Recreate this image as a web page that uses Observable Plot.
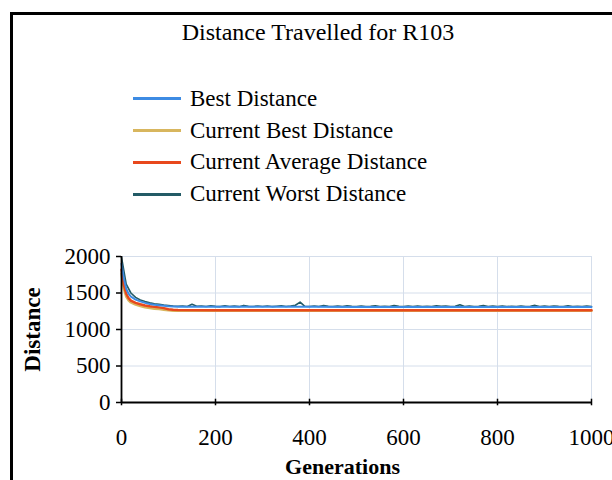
<!DOCTYPE html>
<html>
<head>
<meta charset="utf-8">
<script src="https://cdn.jsdelivr.net/npm/d3@7"></script>
<script src="https://cdn.jsdelivr.net/npm/@observablehq/plot@0.6"></script>
<style>
  html, body { margin: 0; padding: 0; background: #fff; }
  #page { position: relative; width: 612px; height: 480px; overflow: hidden; font-family: "Liberation Serif", "Times New Roman", serif; color: #000; }
  #frame { position: absolute; left: 10px; top: 12px; width: 700px; height: 600px; border: 3px solid #000; box-sizing: border-box; }
  #title { position: absolute; left: 0; width: 636px; top: 17px; text-align: center; font-size: 24px; line-height: 30px; }
  #legend { position: absolute; left: 133px; top: 83px; }
  .row { display: flex; align-items: center; height: 31.8px; font-size: 23px; }
  .swatch { width: 48px; height: 3px; margin-right: 9px; }
  #chart { position: absolute; left: 0; top: 236px; }
</style>
</head>
<body>
<div id="page">
  <div id="frame"></div>
  <div id="title">Distance Travelled for R103</div>
  <div id="legend"></div>
  <div id="chart"></div>
</div>
<script>
const seriesNames = ["Best Distance", "Current Best Distance", "Current Average Distance", "Current Worst Distance"];
const seriesColors = ["#3d8be3", "#d8b65e", "#e8481c", "#235b66"];

const xTicks = [0, 200, 400, 600, 800, 1000];
const yTicks = [0, 500, 1000, 1500, 2000];

// smooth series sampled at these generations
const gensSmooth = [0, 5, 10, 15, 20, 30, 40, 50, 60, 70, 80, 90, 100, 110, 120, 200, 300, 400, 500, 600, 700, 800, 900, 1000];
const bestDistance =        [1900, 1700, 1560, 1490, 1450, 1410, 1385, 1365, 1350, 1340, 1332, 1325, 1318, 1314, 1311, 1310, 1310, 1310, 1309, 1309, 1309, 1309, 1309, 1309];
const currentBestDistance = [1760, 1560, 1450, 1400, 1370, 1340, 1320, 1305, 1293, 1285, 1280, 1272, 1262, 1258, 1257, 1257, 1257, 1257, 1257, 1257, 1257, 1257, 1257, 1257];
const currentAverageDistance = [1820, 1610, 1490, 1430, 1395, 1365, 1345, 1330, 1318, 1310, 1303, 1293, 1278, 1270, 1266, 1265, 1265, 1265, 1265, 1265, 1265, 1265, 1265, 1265];

// noisy worst series
const gensWorst = [0, 10, 20, 30, 40, 50, 60, 70, 80, 90, 100, 110, 120, 130, 140, 150, 160, 170, 180, 190,
  200, 210, 220, 230, 240, 250, 260, 270, 280, 290, 300, 310, 320, 330, 340, 350, 360, 370, 380, 390,
  400, 410, 420, 430, 440, 450, 460, 470, 480, 490, 500, 510, 520, 530, 540, 550, 560, 570, 580, 590,
  600, 610, 620, 630, 640, 650, 660, 670, 680, 690, 700, 710, 720, 730, 740, 750, 760, 770, 780, 790,
  800, 810, 820, 830, 840, 850, 860, 870, 880, 890, 900, 910, 920, 930, 940, 950, 960, 970, 980, 990, 1000];
const worstDistance = [1990, 1620, 1500, 1440, 1405, 1382, 1365, 1352, 1345, 1335, 1328, 1322, 1318, 1320, 1316, 1345, 1318, 1321, 1315, 1324,
  1317, 1314, 1326, 1316, 1320, 1313, 1330, 1317, 1315, 1322, 1316, 1323, 1314, 1319, 1325, 1315, 1321, 1332, 1375, 1318,
  1316, 1322, 1314, 1327, 1317, 1315, 1320, 1313, 1324, 1318, 1316, 1321, 1314, 1318, 1326, 1315, 1319, 1316, 1328, 1317,
  1314, 1320, 1316, 1323, 1315, 1318, 1314, 1325, 1317, 1321, 1315, 1319, 1340, 1316, 1322, 1314, 1318, 1327, 1315, 1320,
  1316, 1323, 1314, 1319, 1316, 1322, 1315, 1318, 1330, 1316, 1320, 1314, 1321, 1317, 1315, 1324, 1316, 1319, 1315, 1322, 1316];

const smoothRows = (vals, name) => gensSmooth.map((g, i) => ({gen: g, value: vals[i], series: name}));
const dataBest = smoothRows(bestDistance, seriesNames[0]);
const dataCurBest = smoothRows(currentBestDistance, seriesNames[1]);
const dataAvg = smoothRows(currentAverageDistance, seriesNames[2]);
const dataWorst = gensWorst.map((g, i) => ({gen: g, value: worstDistance[i], series: seriesNames[3]}));

// HTML legend
const legend = document.getElementById("legend");
seriesNames.forEach((n, i) => {
  const row = document.createElement("div");
  row.className = "row";
  row.innerHTML = `<div class="swatch" style="background:${seriesColors[i]}"></div><span>${n}</span>`;
  legend.appendChild(row);
});

const gridColor = "#d5deeb";
const plot = Plot.plot({
  width: 612,
  height: 244,
  marginLeft: 121,
  marginRight: 21,
  marginTop: 20,
  marginBottom: 78,
  style: {fontFamily: "'Liberation Serif', 'Times New Roman', serif", fontSize: "23px", color: "#000", background: "transparent", overflow: "visible"},
  x: {domain: [0, 1000], label: null},
  y: {domain: [0, 2000], label: null},
  color: {domain: seriesNames, range: seriesColors},
  marks: [
    Plot.gridX(xTicks.filter(d => d > 0), {stroke: gridColor, strokeOpacity: 1, strokeWidth: 1}),
    Plot.gridY(yTicks.filter(d => d > 0), {stroke: gridColor, strokeOpacity: 1, strokeWidth: 1}),
    Plot.line(dataCurBest, {x: "gen", y: "value", stroke: "series", strokeWidth: 2.5}),
    Plot.line(dataAvg, {x: "gen", y: "value", stroke: "series", strokeWidth: 2.5}),
    Plot.line(dataWorst, {x: "gen", y: "value", stroke: "series", strokeWidth: 1.6}),
    Plot.line(dataBest, {x: "gen", y: "value", stroke: "series", strokeWidth: 2}),
    Plot.ruleY([0], {stroke: "#000", strokeWidth: 1.8}),
    Plot.ruleX([0], {stroke: "#000", strokeWidth: 1.8}),
    Plot.ruleX(xTicks, {x: d => d, y1: -45, y2: 45, stroke: "#000", strokeWidth: 1.5}),
    Plot.axisX(xTicks, {tickSize: 0, tickPadding: 26, fontSize: 23, tickFormat: d => String(d)}),
    Plot.axisY(yTicks, {tickSize: 5, tickPadding: 6, fontSize: 23, stroke: "#000", strokeWidth: 1.5, tickFormat: d => String(d)}),
    Plot.text(["Generations"], {frameAnchor: "bottom", dx: -14, dy: 71, fontSize: 22, fill: "#000", fontWeight: "bold"}),
    Plot.text(["Distance"], {frameAnchor: "left", textAnchor: "middle", dx: -89, rotate: -90, fontSize: 23, fill: "#000", fontWeight: "bold"})
  ]
});
document.getElementById("chart").appendChild(plot);
</script>
</body>
</html>
